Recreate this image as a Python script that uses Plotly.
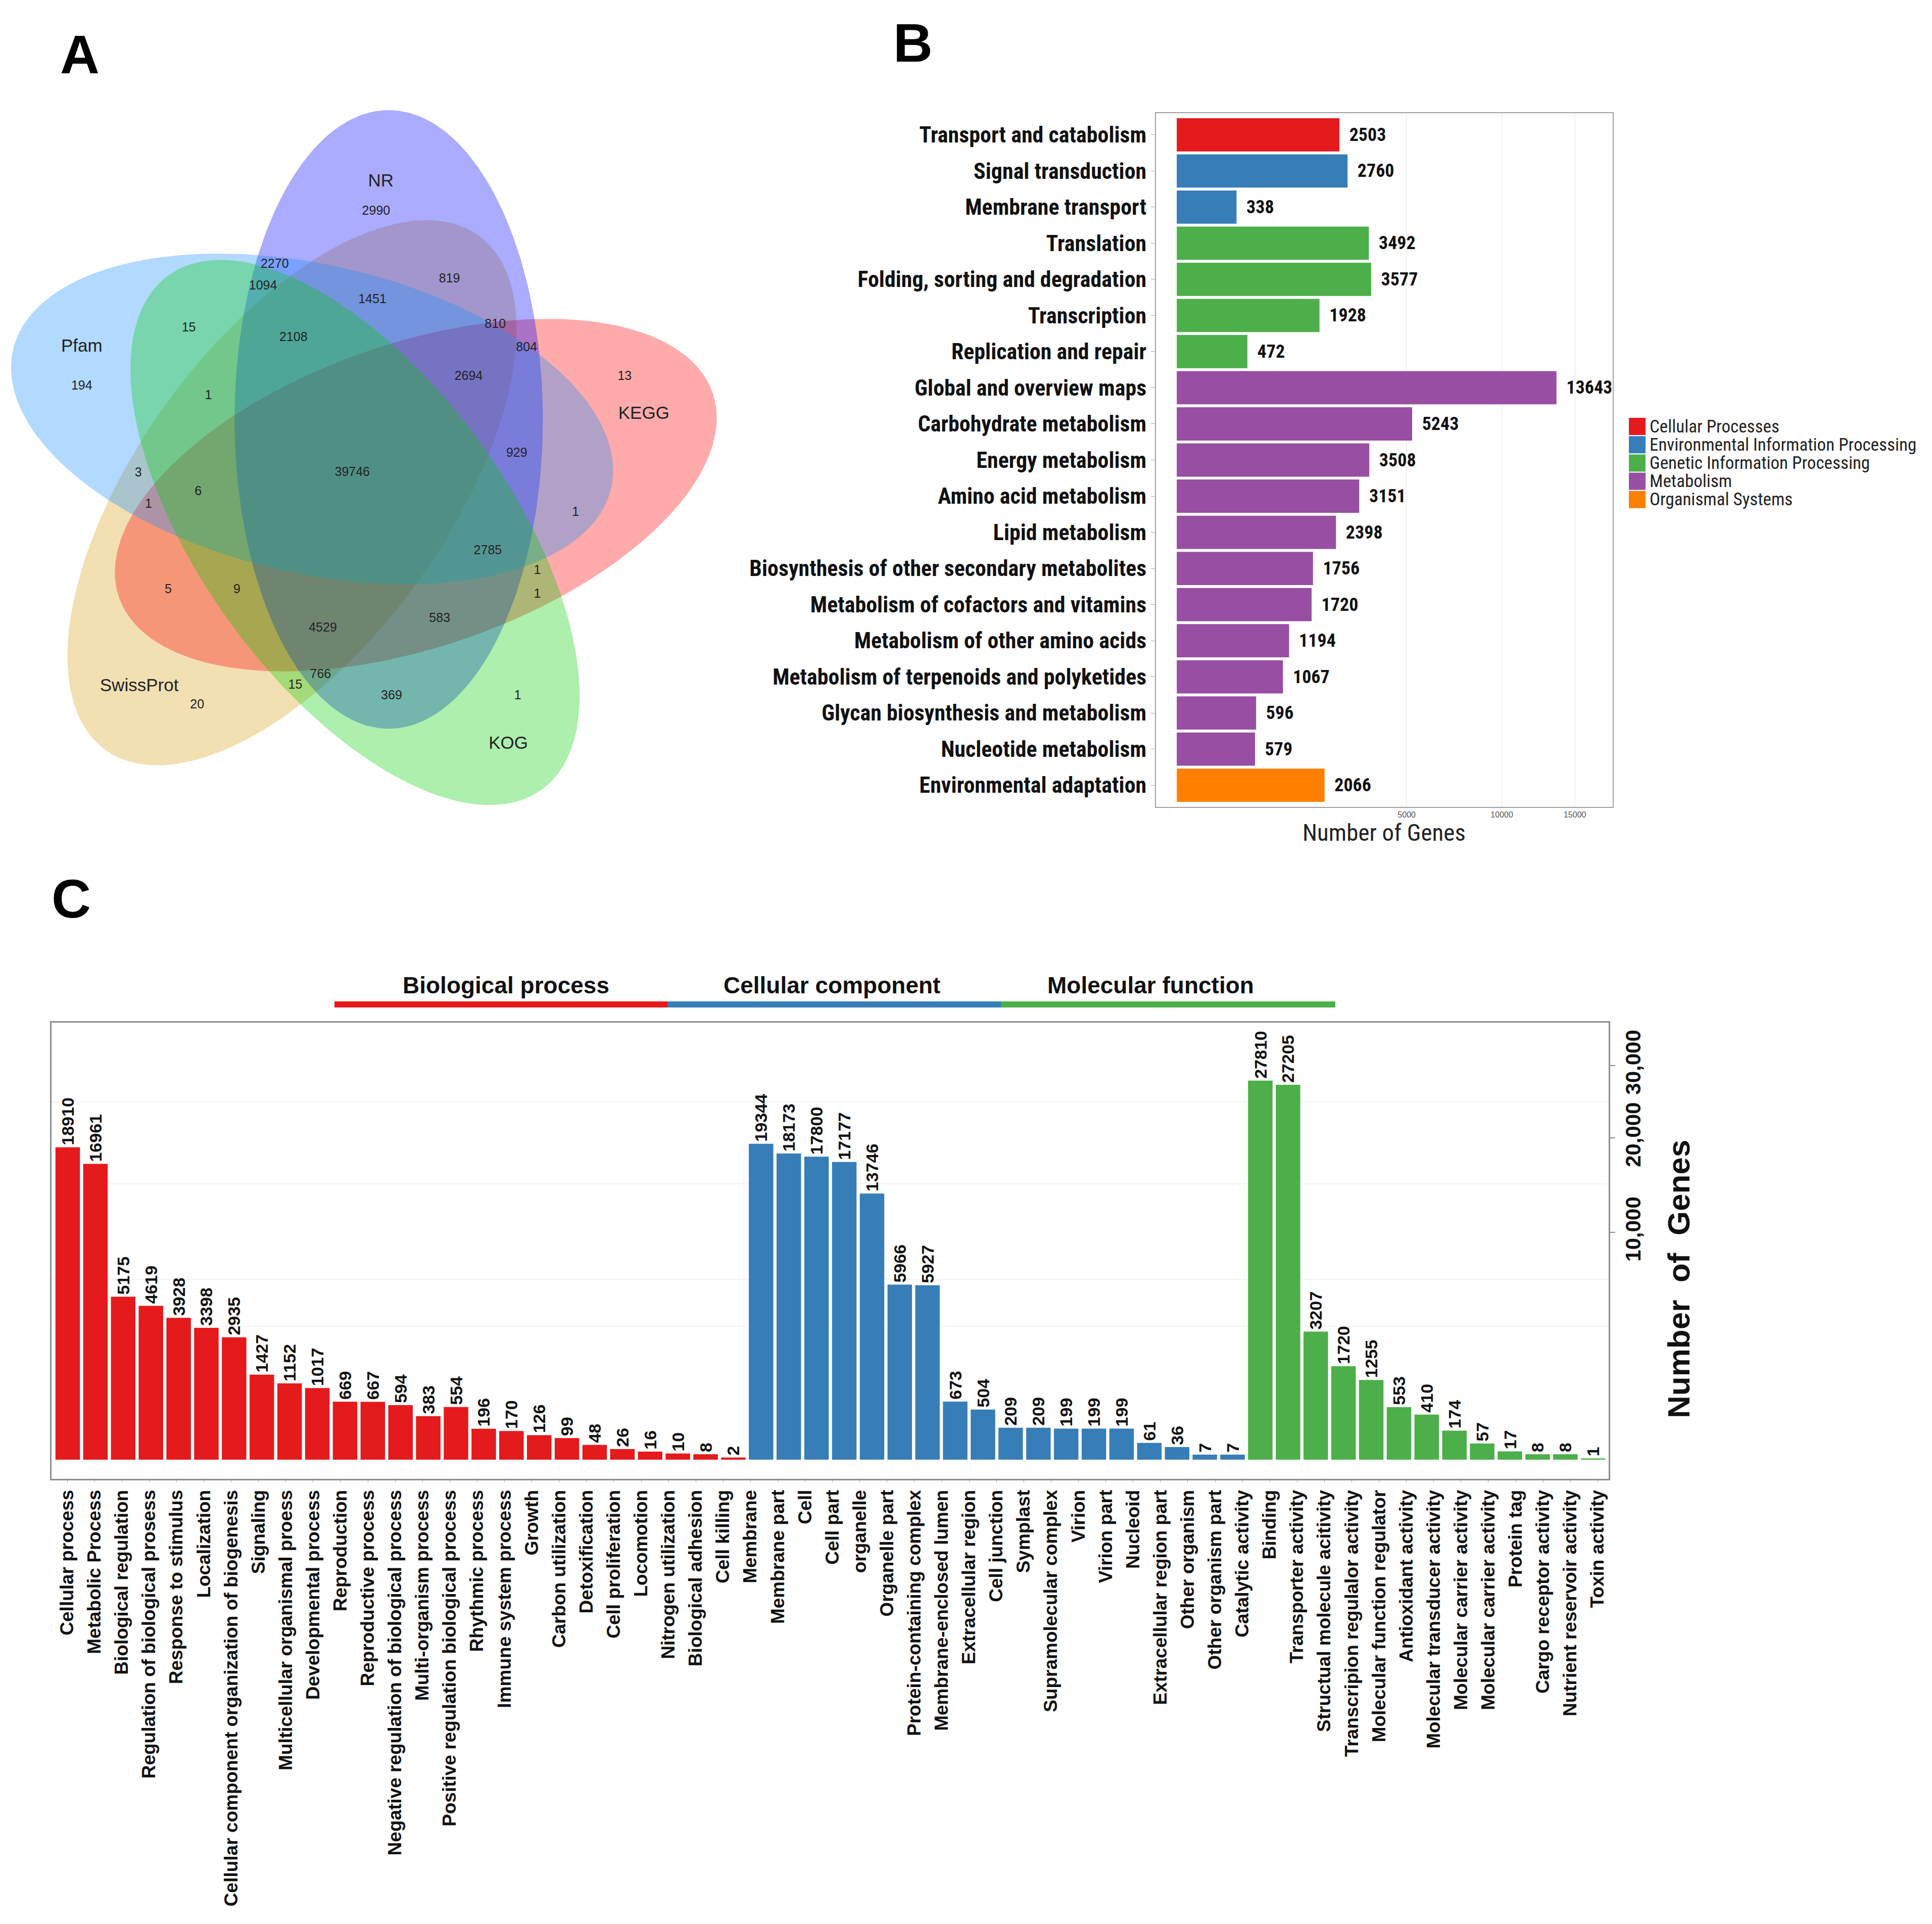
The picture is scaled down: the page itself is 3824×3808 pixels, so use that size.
import numpy as np
import plotly.graph_objects as go

# ======================= DATA =======================
# Panel A - five-set Venn diagram
venn_sets = ["SwissProt", "KEGG", "NR", "Pfam", "KOG"]
venn_fill = ["rgba(218,165,32,0.34)", "rgba(255,0,0,0.33)", "rgba(0,0,255,0.33)",
             "rgba(30,144,255,0.34)", "rgba(0,205,0,0.32)"]
venn_counts = [2990, 194, 13, 20, 1, 2270, 1094, 819, 1451, 15, 2108, 810, 804, 2694, 1,
               929, 39746, 3, 6, 1, 1, 2785, 1, 5, 9, 1, 583, 4529, 766, 15, 369]

# Panel B - KEGG classification
kegg_terms = ["Transport and catabolism", "Signal transduction", "Membrane transport",
              "Translation", "Folding, sorting and degradation", "Transcription",
              "Replication and repair", "Global and overview maps", "Carbohydrate metabolism",
              "Energy metabolism", "Amino acid metabolism", "Lipid metabolism",
              "Biosynthesis of other secondary metabolites", "Metabolism of cofactors and vitamins",
              "Metabolism of other amino acids", "Metabolism of terpenoids and polyketides",
              "Glycan biosynthesis and metabolism", "Nucleotide metabolism",
              "Environmental adaptation"]
kegg_counts = [2503, 2760, 338, 3492, 3577, 1928, 472, 13643, 5243, 3508, 3151, 2398,
               1756, 1720, 1194, 1067, 596, 579, 2066]
kegg_groups = ["Cellular Processes", "Environmental Information Processing",
               "Environmental Information Processing"] + ["Genetic Information Processing"] * 4 \
              + ["Metabolism"] * 11 + ["Organismal Systems"]
kegg_group_names = ["Cellular Processes", "Environmental Information Processing",
                    "Genetic Information Processing", "Metabolism", "Organismal Systems"]
kegg_group_colors = ["#E41A1C", "#377EB8", "#4DAF4A", "#984EA3", "#FF7F00"]
kegg_ticks = [5000, 10000, 15000]

# Panel C - GO classification
go_bp_terms = ["Cellular process", "Metabolic Process", "Biological regulation",
               "Regulation of biological prosess", "Response to stimulus", "Localization",
               "Cellular component organization of biogenesis", "Signaling",
               "Multicellular organismal proess", "Developmental process", "Reproduction",
               "Reproductive process", "Negative regulation of biological process",
               "Multi-organism process", "Positive regulation biological process",
               "Rhythmic process", "Immune system process", "Growth", "Carbon utilization",
               "Detoxification", "Cell proliferation", "Locomotion", "Nitrogen utilization",
               "Biological adhesion", "Cell killing"]
go_cc_terms = ["Membrane", "Membrane part", "Cell", "Cell part", "organelle", "Organelle part",
               "Protein-containing complex", "Membrane-enclosed lumen", "Extracellular region",
               "Cell junction", "Symplast", "Supramolecular complex", "Virion", "Virion part",
               "Nucleoid", "Extracellular region part", "Other organism", "Other organism part"]
go_mf_terms = ["Catalytic activity", "Binding", "Transporter activity",
               "Structual molecule acitivity", "Transcripion regulalor activity",
               "Molecular function regulator", "Antioxidant activity",
               "Molecular transducer activity", "Molecular carrier activity",
               "Molecular carrier activity", "Protein tag", "Cargo receptor activity",
               "Nutrient reservoir activity", "Toxin activity"]
go_bp_counts = [18910, 16961, 5175, 4619, 3928, 3398, 2935, 1427, 1152, 1017, 669, 667, 594,
                383, 554, 196, 170, 126, 99, 48, 26, 16, 10, 8, 2]
go_cc_counts = [19344, 18173, 17800, 17177, 13746, 5966, 5927, 673, 504, 209, 209, 199, 199,
                199, 61, 36, 7, 7]
go_mf_counts = [27810, 27205, 3207, 1720, 1255, 553, 410, 174, 57, 17, 8, 8, 1]
go_domains = ["Biological process", "Cellular component", "Molecular function"]
go_colors = ["#E41A1C", "#377EB8", "#4DAF4A"]
go_ticks = [10000, 20000, 30000]
go_tick_text = ["10,000", "20,000", "30,000"]
go_minor_grid = [3440, 6290, 14720, 24680]

# ======================= LAYOUT HELPERS =======================
W, H = 3808, 3792
OFF = 8


def fx(X):
    return (X - OFF) / W


def fy(Y):
    return 1 - (Y - OFF) / H


NARROW = "Liberation Sans Narrow, Arial Narrow, Roboto Condensed, DejaVu Sans Condensed, Liberation Sans, sans-serif"
SANS = "Liberation Sans, Arial, Helvetica, sans-serif"

fig = go.Figure()

# ======================= PANEL A : VENN =======================
# ellipse geometry (in a 1568 x 1568 local box)
venn_centers = [(625, 860), (890, 865), (832, 703), (668, 702), (760, 945)]
venn_axes = [(680, 330), (672, 325), (662, 330), (657, 330), (680, 330)]
venn_angles = [306, 161, 90, 13, 234]
venn_label_pos = [(298, 1275), (1378, 692), (815, 195), (175, 548), (1088, 1398)]
venn_count_pos = [(805, 258), (175, 632), (1337, 612), (422, 1315), (1108, 1295),
                  (588, 372), (563, 418), (962, 403), (797, 447), (404, 508), (628, 528),
                  (1060, 500), (1127, 550), (1003, 612), (446, 653), (1106, 776),
                  (754, 817), (296, 818), (424, 858), (318, 885), (1232, 903), (1044, 985),
                  (1150, 1027), (360, 1068), (507, 1068), (1150, 1078), (941, 1130),
                  (691, 1150), (686, 1250), (632, 1273), (838, 1295)]

t = np.linspace(0, 2 * np.pi, 240)
for name, col, (cx, cy), (a, b), ang in zip(venn_sets, venn_fill, venn_centers, venn_axes, venn_angles):
    th = np.deg2rad(ang)
    ex = cx + a * np.cos(t) * np.cos(th) - b * np.sin(t) * np.sin(th)
    ey = cy + a * np.cos(t) * np.sin(th) + b * np.sin(t) * np.cos(th)
    fig.add_trace(go.Scatter(x=ex, y=ey, mode="lines", fill="toself", fillcolor=col,
                             line=dict(width=0), hoverinfo="skip", showlegend=False,
                             xaxis="x3", yaxis="y3"))

fig.add_trace(go.Scatter(x=[p[0] for p in venn_count_pos], y=[p[1] for p in venn_count_pos],
                         mode="text", text=[str(v) for v in venn_counts],
                         textfont=dict(family=SANS, size=25, color="#222222"),
                         hoverinfo="skip", showlegend=False, xaxis="x3", yaxis="y3"))
fig.add_trace(go.Scatter(x=[p[0] for p in venn_label_pos], y=[p[1] for p in venn_label_pos],
                         mode="text", text=venn_sets,
                         textfont=dict(family=SANS, size=35, color="#222222"),
                         hoverinfo="skip", showlegend=False, xaxis="x3", yaxis="y3"))

# ======================= PANEL B : KEGG =======================
for gname, gcol in zip(kegg_group_names, kegg_group_colors):
    idx = [i for i, g in enumerate(kegg_groups) if g == gname]
    fig.add_trace(go.Bar(
        y=[kegg_terms[i] for i in idx],
        x=[np.sqrt(kegg_counts[i]) for i in idx],
        text=[str(kegg_counts[i]) for i in idx],
        texttemplate="\u00a0\u00a0%{text}",
        orientation="h", marker=dict(color=gcol, line=dict(width=0)),
        textposition="outside", constraintext="none", cliponaxis=False,
        textfont=dict(family=NARROW, size=36, color="#111111", weight="bold"),
        hoverinfo="skip", showlegend=False, name=gname, xaxis="x", yaxis="y"))

# manual legend (large square keys)
for k, (gname, gcol) in enumerate(zip(kegg_group_names, kegg_group_colors)):
    yc = 844 + 36.2 * k
    fig.add_shape(type="rect", xref="paper", yref="paper",
                  x0=fx(3224), x1=fx(3257), y0=fy(yc + 17), y1=fy(yc - 17),
                  fillcolor=gcol, line=dict(width=0))
    fig.add_annotation(x=fx(3263), y=fy(yc), xref="paper", yref="paper", text=gname,
                       showarrow=False, xanchor="left", yanchor="middle",
                       font=dict(family=NARROW, size=35, color="#222222"))

fig.add_annotation(x=fx(2739), y=fy(1648), xref="paper", yref="paper", text="Number of Genes",
                   showarrow=False, xanchor="center", yanchor="middle",
                   font=dict(family=NARROW, size=47, color="#222222"))

# ======================= PANEL C : GO =======================
go_all_terms = go_bp_terms + go_cc_terms + go_mf_terms
start = 0
for counts, col in zip([go_bp_counts, go_cc_counts, go_mf_counts], go_colors):
    pos = list(range(start, start + len(counts)))
    start += len(counts)
    fig.add_trace(go.Bar(
        x=pos, y=np.sqrt(counts), text=[str(v) for v in counts],
        marker=dict(color=col, line=dict(color="white", width=2)),
        textposition="outside", textangle=-90, constraintext="none", cliponaxis=False,
        textfont=dict(family=SANS, size=34, color="#111111", weight="bold"),
        hoverinfo="skip", showlegend=False, xaxis="x2", yaxis="y2"))

# invisible trace carrying the category-label axis
fig.add_trace(go.Scatter(x=list(range(len(go_all_terms))), y=[0] * len(go_all_terms),
                         mode="markers", marker=dict(opacity=0), hoverinfo="skip",
                         showlegend=False, xaxis="x4", yaxis="y2"))

# domain headers with coloured rules
hdr_x = [1001, 1646, 2277]
rule_x = [(662, 1321), (1321, 1981), (1981, 2643)]
for name, col, hx, (r0, r1) in zip(go_domains, go_colors, hdr_x, rule_x):
    fig.add_annotation(x=fx(hx), y=fy(1950), xref="paper", yref="paper", text=name,
                       showarrow=False, xanchor="center", yanchor="middle",
                       font=dict(family=SANS, size=46, color="#111111", weight="bold"))
    fig.add_shape(type="line", xref="paper", yref="paper", x0=fx(r0), x1=fx(r1),
                  y0=fy(1988), y1=fy(1988), line=dict(color=col, width=12))

fig.add_annotation(x=fx(3322), y=fy(2532), xref="paper", yref="paper",
                   text="Number\u00a0\u00a0of\u00a0\u00a0Genes", textangle=-90,
                   showarrow=False, xanchor="center", yanchor="middle",
                   font=dict(family=SANS, size=62, color="#111111", weight="bold"))

# panel letters
for letter, (lx, ly) in zip(["A", "B", "C"], [(158, 108), (1807, 84), (141, 1778)]):
    fig.add_annotation(x=fx(lx), y=fy(ly), xref="paper", yref="paper", text=letter,
                       showarrow=False, xanchor="center", yanchor="middle",
                       font=dict(family=SANS, size=108, color="#000000", weight="bold"))

# ======================= AXES =======================
fig.update_layout(
    width=W, height=H, margin=dict(l=0, r=0, t=0, b=0),
    paper_bgcolor="white", plot_bgcolor="white",
    barmode="relative", bargap=0.08,
    # Panel B
    xaxis=dict(domain=[fx(2288), fx(3192)], range=[-6.4, 134.1], autorange=False,
               tickvals=np.sqrt(kegg_ticks).tolist(), ticktext=[str(v) for v in kegg_ticks],
               tickfont=dict(family=SANS, size=16, color="#555555"), ticks="",
               showgrid=True, gridcolor="#F1F1F1", gridwidth=2, zeroline=False,
               showline=True, mirror=True, linecolor="#A0A0A0", linewidth=2),
    yaxis=dict(domain=[fy(1597), fy(224)], type="category", categoryorder="array",
               categoryarray=kegg_terms, range=[18.6, -0.6], autorange=False,
               tickfont=dict(family=NARROW, size=44, color="#111111", weight="bold"),
               ticks="outside", ticklen=8, tickcolor="#A0A0A0", showgrid=False,
               zeroline=False, showline=True, mirror=True, linecolor="#A0A0A0", linewidth=2),
    # Panel C (bars)
    xaxis2=dict(domain=[fx(102), fx(3184)], anchor="y2", range=[-0.583, 55.56], autorange=False,
                showticklabels=False, ticks="", showgrid=False, zeroline=False,
                showline=True, mirror=True, linecolor="#8C8C8C", linewidth=3),
    yaxis2=dict(domain=[fy(2927), fy(2024)], anchor="x2", side="right",
                range=[-8.2, 192.0], autorange=False,
                tickvals=np.sqrt(go_ticks).tolist(), ticktext=go_tick_text, tickangle=-90,
                tickfont=dict(family=SANS, size=42, color="#111111", weight="bold"),
                ticks="outside", ticklen=10, tickwidth=2, tickcolor="#8C8C8C",
                showgrid=False, zeroline=False,
                minor=dict(tickvals=np.sqrt(go_minor_grid).tolist(), showgrid=True,
                           gridcolor="#F3F3F3", gridwidth=2, ticks=""),
                showline=True, mirror=True, linecolor="#8C8C8C", linewidth=3),
    # Panel C (category labels)
    xaxis4=dict(overlaying="x2", anchor="y2", side="bottom", range=[-0.573, 56.4],
                autorange=False, tickmode="array",
                tickvals=list(range(len(go_all_terms))), ticktext=go_all_terms,
                tickangle=-90, tickfont=dict(family=SANS, size=37, color="#111111", weight="bold"),
                ticks="outside", ticklen=6, tickcolor="#A0A0A0", showgrid=False,
                zeroline=False, showline=False),
    # Panel A (venn)
    xaxis3=dict(domain=[0, fx(1450)], anchor="y3", range=[8.65, 1568], autorange=False,
                visible=False),
    yaxis3=dict(domain=[fy(1630), fy(180)], anchor="x3", range=[1568, 0], autorange=False,
                visible=False),
)

fig.write_html("out.html")
